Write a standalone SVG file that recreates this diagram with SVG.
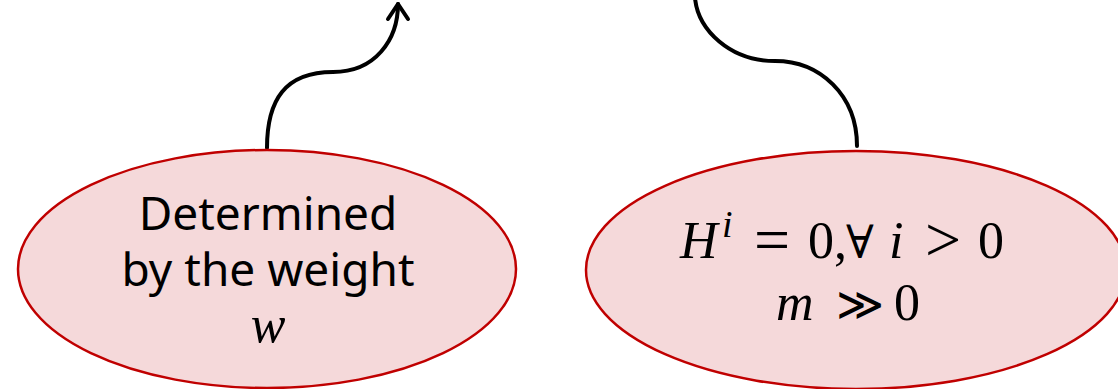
<svg xmlns="http://www.w3.org/2000/svg" width="1118" height="389" viewBox="0 0 1118 389">
<style>
.node{fill:#F5D9DA;stroke:#C00000;stroke-width:2.5}
.lbl{font-family:"Noto Sans","Open Sans",sans-serif;font-size:46px;fill:#000;text-anchor:middle}
.math{font-family:"Liberation Serif","DejaVu Serif",serif;font-size:52px;fill:#000}
.op{font-family:"Liberation Serif",serif;font-size:64px}
.op2{font-family:"DejaVu Serif",serif;font-size:46px}
.it{font-style:italic}
.conn{fill:none;stroke:#000;stroke-width:4;stroke-linecap:round;stroke-linejoin:round}
</style>
<rect width="1118" height="389" fill="#fff"/>
<g id="connectors">
<path class="conn" d="M267,148 C267,100 285,72 333,72 C375,72 398,40 398,4"/>
<path class="conn" d="M388,19 L398,4 L408,19"/>
<path class="conn" d="M857,146 C857,95 820,61 775,61 C730,61 698,30 695,-2"/>
</g>
<g id="node-weight">
<ellipse class="node" cx="267" cy="269" rx="249" ry="119"/>
<text class="lbl" x="268" y="230">Determined</text>
<text class="lbl" x="268" y="286">by the weight</text>
<text class="math it" x="268" y="342" text-anchor="middle">w</text>
</g>
<g id="node-cond">
<ellipse class="node" cx="856" cy="270" rx="270" ry="119"/>
<text class="math" y="258"><tspan class="it" x="680">H</tspan><tspan class="it" x="722" y="237" font-size="38">i</tspan><tspan class="op" x="754" y="261">=</tspan><tspan x="808" y="258">0,</tspan><tspan class="op2" x="846" font-size="44">∀</tspan><tspan class="it" x="889">i</tspan><tspan class="op" x="925" y="261">&gt;</tspan><tspan x="978" y="258">0</tspan></text>
<text class="math" y="320"><tspan class="it" x="776">m</tspan><tspan class="op2" x="836">≫</tspan><tspan x="894">0</tspan></text>
</g>
</svg>
